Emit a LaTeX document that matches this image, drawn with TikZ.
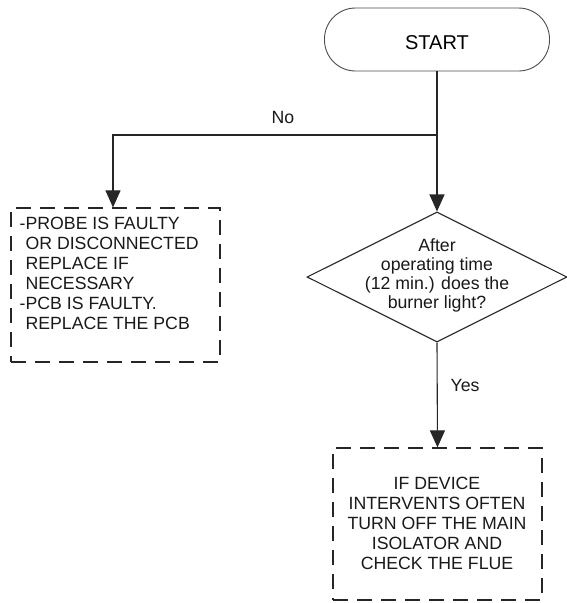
\documentclass[tikz,border=0pt]{standalone}
\usepackage{fontspec}
\setmainfont{Liberation Sans}
\usetikzlibrary{shapes.geometric,arrows.meta}
\begin{document}
\begin{tikzpicture}[x=1pt,y=1pt,
  line/.style={line width=1.1pt, draw=black!85},
  arr/.style={line, -{Triangle[length=17pt,width=15pt]}},
  dashbox/.style={draw=black!85, line width=1.2pt, dash pattern=on 15pt off 9pt, inner sep=0pt},
  txt/.style={font=\fontsize{17.7}{20}\selectfont, inner sep=0pt, text=black!90},
  lbl/.style={font=\fontsize{17.7}{20}\selectfont, inner sep=0pt, text=black!90}
]
\useasboundingbox (0,0) rectangle (566,-603);

% START terminal
\node[draw=black!70, line width=0.9pt, rounded corners=31pt, minimum width=225pt, minimum height=63pt,
      font=\fontsize{20}{24}\selectfont, text height=20pt, text depth=0pt, inner sep=0pt] (start) at (437,-39.5) {START};

% decision diamond
\node[diamond, draw=black!85, line width=1.1pt, minimum width=260pt, minimum height=130pt, inner sep=0pt] (dec) at (437,-277) {};
\node[txt, align=center, font=\fontsize{17.7}{19}\selectfont] (dectext) at (437,-275) {After\\operating time\\(12 min.) does the\\burner light?};

% left box
\node[dashbox, minimum width=209pt, minimum height=154pt] (lbox) at (115.5,-285) {};
\node[txt, align=left, anchor=west] (ltext) at (19.5,-273) {-PROBE IS FAULTY\\\phantom{-}OR DISCONNECTED\\\phantom{-}REPLACE IF\\\phantom{-}NECESSARY\\-PCB IS FAULTY.\\\phantom{-}REPLACE THE PCB};

% lower box
\node[dashbox, minimum width=209pt, minimum height=152pt] (rbox) at (437.5,-524) {};
\node[txt, align=center] (rtext) at (437,-523) {IF DEVICE\\INTERVENTS OFTEN\\TURN OFF THE MAIN\\ISOLATOR AND\\CHECK THE FLUE};

% connectors
\coordinate (split) at (437,-135);
\coordinate (corner) at (113,-135);
\draw[arr] (start.south) -- (dec.north);
\draw[arr] (split) -- (corner) -- (corner |- lbox.north);
\draw[arr] (dec.south) -- (rbox.north);

% labels
\node[lbl] (no) at (283,-117) {No};
\node[lbl] (yes) at (465,-385) {Yes};
\end{tikzpicture}
\end{document}
